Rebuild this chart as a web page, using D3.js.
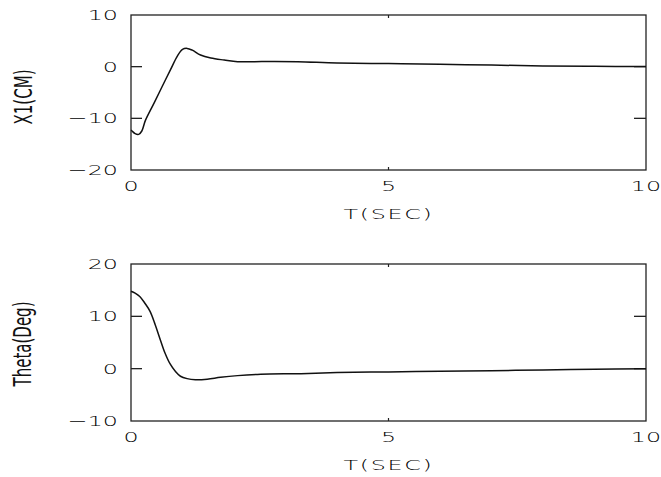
<!DOCTYPE html>
<html>
<head>
<meta charset="utf-8">
<script src="https://cdn.jsdelivr.net/npm/d3@7"></script>
<style>
  body { margin: 0; background: #fff; }
  svg { display: block; }
  .tick-label { font-family: "DejaVu Sans", sans-serif; font-size: 14px; font-weight: 200; fill: #000; }
  .y-title { font-family: "Liberation Sans Narrow", "DejaVu Sans Condensed", sans-serif; font-size: 24px; fill: #111; }
</style>
</head>
<body>
<div id="chart"></div>
<script>
// time axis
var xTicks = [0, 5, 10];
var xTickLabels = ["0", "5", "10"];
var xTitle = "T(SEC)";

// top panel: X1(CM)
var x1Time = [0, 0.02, 0.08, 0.15, 0.21, 0.28, 0.45, 0.61, 0.77, 0.9, 1.0, 1.09, 1.19, 1.35, 1.55, 1.81, 2.07, 2.4, 2.72, 3.24, 4, 5, 6, 7, 8, 9, 10];
var x1Value = [-12.3, -12.45, -12.97, -13.1, -12.45, -10.4, -7.0, -3.75, -0.52, 2.05, 3.35, 3.54, 3.2, 2.25, 1.67, 1.28, 0.96, 0.96, 1.0, 0.96, 0.72, 0.6, 0.45, 0.3, 0.15, 0.07, 0.03];
var x1Ticks = [10, 0, -10, -20];
var x1TickLabels = ["10", "0", "\u221210", "\u221220"];
var x1Title = "X1(CM)";

// bottom panel: Theta(Deg)
var thetaTime = [0, 0.08, 0.17, 0.27, 0.37, 0.47, 0.57, 0.66, 0.76, 0.86, 0.96, 1.09, 1.25, 1.48, 1.74, 2.07, 2.52, 3.3, 4, 5, 6, 7, 8, 9, 10];
var thetaValue = [14.8, 14.45, 13.8, 12.5, 10.95, 8.4, 5.5, 3.0, 0.9, -0.5, -1.45, -1.9, -2.1, -2.0, -1.65, -1.33, -1.07, -0.95, -0.75, -0.62, -0.5, -0.38, -0.25, -0.12, 0.0];
var thetaTicks = [20, 10, 0, -10];
var thetaTickLabels = ["20", "10", "0", "\u221210"];
var thetaTitle = "Theta(Deg)";

const width = 661, height = 477;
const svg = d3.select("#chart").append("svg")
    .attr("width", width)
    .attr("height", height);

const xScale = d3.scaleLinear().domain([0, 10]).range([131, 646]);

function wideText(g, x, y, txt, anchor) {
    // stretched plotter-style lettering
    g.append("g")
        .attr("transform", `translate(${x},${y}) scale(1.7,1)`)
        .append("text")
        .attr("class", "tick-label")
        .attr("text-anchor", anchor)
        .attr("dy", "0.36em")
        .text(txt);
}

function drawPanel(opts) {
    const g = svg.append("g");
    const y = d3.scaleLinear().domain(opts.domain).range([opts.bottom, opts.top]);
    const x0 = xScale.range()[0], x1 = xScale.range()[1];

    // frame
    g.append("rect")
        .attr("x", x0).attr("y", opts.top)
        .attr("width", x1 - x0).attr("height", opts.bottom - opts.top)
        .attr("fill", "none")
        .attr("stroke", "#222")
        .attr("stroke-width", 1.3);

    // inner y ticks on both sides
    const inner = opts.ticks.slice(1, -1);
    g.selectAll(".ytl").data(inner).enter().append("line")
        .attr("x1", x0).attr("x2", x0 + 11)
        .attr("y1", d => y(d)).attr("y2", d => y(d))
        .attr("stroke", "#222").attr("stroke-width", 1.3);
    g.selectAll(".ytr").data(inner).enter().append("line")
        .attr("x1", x1 - 12).attr("x2", x1)
        .attr("y1", d => y(d)).attr("y2", d => y(d))
        .attr("stroke", "#222").attr("stroke-width", 1.3);

    // inner x ticks on top and bottom
    const xin = xTicks.slice(1, -1);
    xin.forEach(function(t) {
        g.append("line").attr("x1", xScale(t)).attr("x2", xScale(t))
            .attr("y1", opts.top).attr("y2", opts.top + 3)
            .attr("stroke", "#222").attr("stroke-width", 1.2);
        g.append("line").attr("x1", xScale(t)).attr("x2", xScale(t))
            .attr("y1", opts.bottom - 3).attr("y2", opts.bottom)
            .attr("stroke", "#222").attr("stroke-width", 1.2);
    });

    // y tick labels
    opts.ticks.forEach(function(t, i) {
        wideText(g, 118, y(t), opts.tickLabels[i], "end");
    });

    // x tick labels
    xTicks.forEach(function(t, i) {
        wideText(g, xScale(t), opts.bottom + 16, xTickLabels[i], "middle");
    });

    // x title
    g.append("g")
        .attr("transform", `translate(${xScale(5)},${opts.bottom + 44}) scale(1.7,1)`)
        .append("text")
        .attr("class", "tick-label")
        .attr("text-anchor", "middle")
        .attr("dy", "0.36em")
        .attr("letter-spacing", "1px")
        .text(xTitle);

    // y title
    g.append("text")
        .attr("class", "y-title")
        .attr("transform", `translate(${opts.titleX},${opts.titleY}) rotate(-90)`)
        .attr("text-anchor", "middle")
        .attr("dy", "0.36em")
        .attr("textLength", opts.titleLen)
        .attr("lengthAdjust", "spacingAndGlyphs")
        .text(opts.title);

    // curve
    const line = d3.line()
        .x((d, i) => xScale(opts.time[i]))
        .y(d => y(d))
        .curve(d3.curveCatmullRom.alpha(0.5));
    g.append("path")
        .datum(opts.values)
        .attr("d", line)
        .attr("fill", "none")
        .attr("stroke", "#111")
        .attr("stroke-width", 1.5);
}

drawPanel({
    top: 15, bottom: 170, domain: [-20, 10],
    ticks: x1Ticks, tickLabels: x1TickLabels,
    time: x1Time, values: x1Value,
    title: x1Title, titleX: 23, titleY: 97, titleLen: 55
});

drawPanel({
    top: 264, bottom: 421, domain: [-10, 20],
    ticks: thetaTicks, tickLabels: thetaTickLabels,
    time: thetaTime, values: thetaValue,
    title: thetaTitle, titleX: 22, titleY: 344, titleLen: 85
});
</script>
</body>
</html>
